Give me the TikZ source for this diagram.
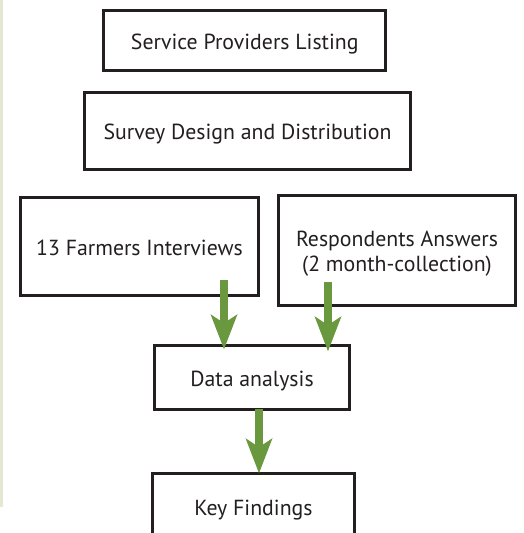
\documentclass[tikz,border=0pt]{standalone}
\usepackage{fontspec}
\setmainfont{PT Sans}
\usetikzlibrary{arrows.meta,calc}
\definecolor{boxline}{RGB}{35,31,32}
\definecolor{arrowgreen}{RGB}{105,152,62}
\definecolor{palegreen}{RGB}{226,233,208}
\tikzset{
  stepbox/.style={draw=boxline, line width=2.6pt, fill=white, text=boxline,
    font=\fontsize{21.8}{25}\selectfont, align=center, inner sep=0pt,
    text height=17pt, text depth=0pt},
  garrow/.style={draw=arrowgreen, line width=8pt,
    -{Stealth[length=35pt, width=27pt, inset=9pt, line width=0pt, fill=arrowgreen]}}
}
\begin{document}
\begin{tikzpicture}[x=1pt, y=-1pt]
\clip (0,0) rectangle (523,533);
\fill[white] (0,0) rectangle (523,533);
\fill[palegreen] (0,0) rectangle (2.5,507);

\node[stepbox, minimum width=282pt, minimum height=60pt] (b1) at (244.75,40.5) {Service Providers Listing};
\node[stepbox, minimum width=326pt, minimum height=77pt] (b2) at (247.5,131) {Survey Design and Distribution};
\node[stepbox, minimum width=238pt, minimum height=98pt] (b3) at (139.5,246.5) {13 Farmers Interviews};
\node[stepbox, minimum width=237pt, minimum height=110pt, text height=42.4pt, text depth=0pt] (b4) at (397,250.5) {Respondents Answers\\(2 month-collection)};
\node[stepbox, minimum width=195pt, minimum height=64pt] (b5) at (252,377.5) {Data analysis};
\node[stepbox, minimum width=202pt, minimum height=66pt] (b6) at (253.5,506.5) {Key Findings};

\coordinate (a1s) at (224,280);
\coordinate (a2s) at (328,282);
\coordinate (a3s) at (259,409);
\draw[garrow] (a1s) -- ([yshift=-5pt]a1s |- b5.north);
\draw[garrow] (a2s) -- ([yshift=-7pt]a2s |- b5.north);
\draw[garrow] (a3s) -- ([yshift=-1pt]a3s |- b6.north);
\end{tikzpicture}
\end{document}
